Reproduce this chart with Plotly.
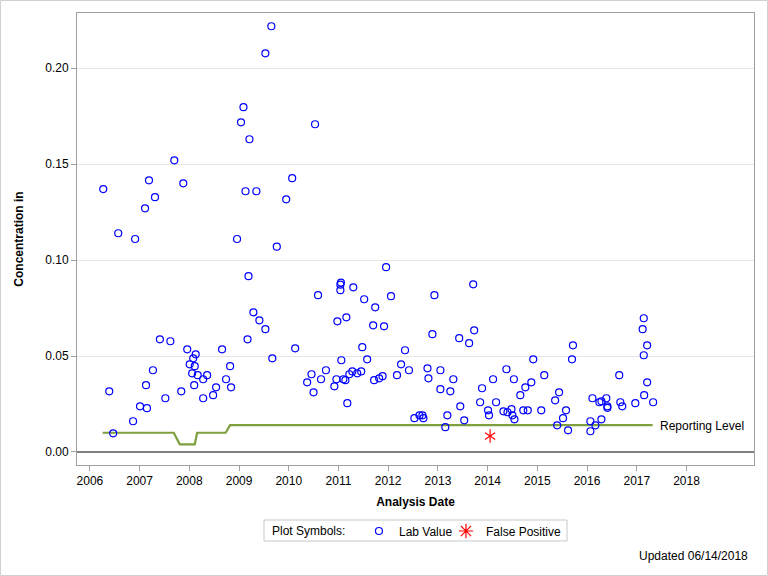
import plotly.graph_objects as go
from datetime import datetime, timedelta

# Sample dates as decimal years and concentrations
lab_years = [
    2006.27, 2006.57, 2006.91, 2007.11, 2007.19, 2007.31, 2007.70, 2007.88,
    2008.96, 2009.04, 2009.09, 2009.21, 2009.13, 2009.35, 2009.65, 2009.53,
    2010.53, 2010.07, 2009.95, 2009.76,
    2006.39, 2006.47, 2006.87, 2007.01, 2007.15, 2007.13, 2007.27, 2007.41,
    2007.52, 2007.62, 2007.84, 2007.96, 2008.01, 2008.08, 2008.13, 2008.11,
    2008.06, 2008.10, 2008.17, 2008.28, 2008.28, 2008.36, 2008.48, 2008.54,
    2008.66, 2008.74, 2008.82, 2008.84, 2009.17, 2009.19, 2009.29, 2009.41,
    2009.53, 2009.67, 2010.13, 2010.37, 2010.46, 2010.50, 2010.59,
    2010.65, 2010.75, 2010.92, 2010.96, 2010.98, 2011.05, 2011.04, 2011.04,
    2011.06, 2011.10, 2011.14, 2011.16, 2011.18, 2011.22, 2011.28, 2011.30,
    2011.38, 2011.46, 2011.48, 2011.52, 2011.58, 2011.70, 2011.72, 2011.74,
    2011.82, 2011.89, 2011.92, 2011.96, 2012.06, 2012.18, 2012.26, 2012.34,
    2012.42, 2012.53, 2012.63, 2012.69, 2012.71, 2012.79, 2012.81, 2012.89,
    2012.93, 2013.05, 2013.05, 2013.15, 2013.19, 2013.25, 2013.31, 2013.43,
    2013.45, 2013.53, 2013.63, 2013.71, 2013.73, 2013.85, 2013.89, 2014.01,
    2014.03, 2014.11, 2014.17, 2014.32, 2014.38, 2014.40, 2014.48, 2014.50,
    2014.54, 2014.53, 2014.66, 2014.72, 2014.76, 2014.81, 2014.88, 2014.92,
    2015.08, 2015.14, 2015.36, 2015.44, 2015.40,
    2015.52, 2015.58, 2015.62, 2015.70, 2015.72, 2016.07, 2016.07, 2016.11,
    2016.17, 2016.25, 2016.29, 2016.29, 2016.39, 2016.41, 2016.41, 2016.65,
    2016.67, 2016.71, 2016.97, 2017.12, 2017.14, 2017.14, 2017.21, 2017.21,
    2017.15, 2017.33,
]
lab_values = [
    0.137, 0.114, 0.111, 0.127, 0.1416, 0.1328, 0.152, 0.140,
    0.111, 0.1718, 0.1797, 0.163, 0.1359, 0.1359, 0.2219, 0.2078,
    0.1708, 0.1427, 0.1317, 0.107,
    0.0316, 0.0097, 0.016, 0.0238, 0.0228, 0.0348, 0.0426, 0.0587,
    0.028, 0.0577, 0.0316, 0.0535, 0.0457, 0.0488, 0.0509, 0.0447,
    0.041, 0.0348, 0.040, 0.0379, 0.028, 0.040, 0.0296, 0.0337,
    0.0535, 0.0379, 0.0447, 0.0337, 0.0587, 0.0916, 0.0728, 0.0686,
    0.064, 0.0488, 0.054, 0.0363, 0.0405, 0.0311, 0.0817,
    0.0379, 0.0426, 0.0342, 0.0379, 0.0681, 0.0883, 0.0872, 0.0843,
    0.0478, 0.0379, 0.0374, 0.0702, 0.0254, 0.0405, 0.042, 0.0858,
    0.041, 0.042, 0.0546, 0.0796, 0.0483, 0.066, 0.0374, 0.0754,
    0.0384, 0.0395, 0.0655, 0.0963, 0.0812, 0.040, 0.0457, 0.053,
    0.0426, 0.0176, 0.0191, 0.0191, 0.0176, 0.0436, 0.0384, 0.0614,
    0.0817, 0.0426, 0.0327, 0.0129, 0.0191, 0.0316, 0.0379, 0.0593,
    0.0238, 0.0165, 0.0567, 0.0874, 0.0634, 0.0259, 0.0332, 0.0217,
    0.0191, 0.0379, 0.0259, 0.0212, 0.0431, 0.0207, 0.0223, 0.0191,
    0.017, 0.0379, 0.0296, 0.0217, 0.0337, 0.0217, 0.0363, 0.0483,
    0.0217, 0.040, 0.0269, 0.0311, 0.0139,
    0.0176, 0.0217, 0.0113, 0.0483, 0.0556, 0.016, 0.0108, 0.028,
    0.0139, 0.0259, 0.0264, 0.017, 0.028, 0.0238, 0.023, 0.040,
    0.0259, 0.0238, 0.0254, 0.064, 0.0697, 0.0504, 0.0556, 0.0363,
    0.0296, 0.0259,
]

fp_years = [2014.05]
fp_values = [0.0083]

rl_years = [2006.255, 2007.69, 2007.81, 2008.11, 2008.16, 2008.73, 2008.82, 2017.32]
rl_values = [0.010, 0.010, 0.004, 0.004, 0.010, 0.010, 0.014, 0.014]

y_ticks = [0.00, 0.05, 0.10, 0.15, 0.20]
x_tick_years = [2006, 2007, 2008, 2009, 2010, 2011, 2012, 2013, 2014, 2015, 2016, 2017, 2018]


def to_date(y):
    yr = int(y)
    start = datetime(yr, 1, 1)
    ndays = (datetime(yr + 1, 1, 1) - start).days
    return (start + timedelta(days=(y - yr) * ndays)).strftime("%Y-%m-%d")


lab_dates = [to_date(v) for v in lab_years]
fp_dates = [to_date(v) for v in fp_years]
rl_dates = [to_date(v) for v in rl_years]

FONT = "Liberation Sans, Arial, sans-serif"

fig = go.Figure()
fig.add_trace(go.Scatter(
    x=rl_dates, y=rl_values, mode="lines",
    line=dict(color="#7f9f3f", width=2.2), showlegend=False, hoverinfo="skip",
))
fig.add_trace(go.Scatter(
    x=lab_dates, y=lab_values, mode="markers", name="Lab Value", legend="legend",
    marker=dict(symbol="circle-open", size=7, color="#0000ff", line=dict(width=1.2, color="#0000ff")),
))
fig.add_trace(go.Scatter(
    x=fp_dates, y=fp_values, mode="markers", name="False Positive",
    marker=dict(symbol="y-up-open", size=8.5, color="#ff0000", line=dict(width=1.2, color="#ff0000")),
    showlegend=False, legendgroup="fp", legend="legend2",
))
fig.add_trace(go.Scatter(
    x=fp_dates, y=fp_values, mode="markers", name="False Positive",
    marker=dict(symbol="y-down-open", size=8.5, color="#ff0000", line=dict(width=1.2, color="#ff0000")),
    showlegend=False, legendgroup="fp", legend="legend2",
))
# legend entry for false positive
fig.add_trace(go.Scatter(
    x=[None], y=[None], mode="markers", name="False Positive", legendgroup="fp", legend="legend2",
    marker=dict(symbol="asterisk-open", size=12, color="#ff0000", line=dict(width=1.2, color="#ff0000")),
))

fig.add_annotation(
    x=rl_dates[-1], y=rl_values[-1], xref="x", yref="y", text="Reporting Level",
    showarrow=False, xanchor="left", yanchor="middle", xshift=5, yshift=-1,
    font=dict(family=FONT, size=12, color="#000000"),
)
fig.add_annotation(
    x=0.994, y=-0.2013, xref="paper", yref="paper", text="Updated 06/14/2018",
    showarrow=False, xanchor="right", yanchor="middle",
    font=dict(family=FONT, size=12, color="#000000"),
)
fig.add_annotation(
    x=0.2851, y=-0.146, xref="paper", yref="paper", text="Plot Symbols:",
    showarrow=False, xanchor="left", yanchor="middle",
    font=dict(family=FONT, size=12, color="#000000"),
)
# legend box
fig.add_shape(
    type="rect", xref="paper", yref="paper",
    x0=0.2762, x1=0.7238, y0=-0.1681, y1=-0.1217,
    line=dict(color="#c8c8c8", width=1),
)
# outer border of the graphic
fig.add_shape(
    type="rect", xref="paper", yref="paper",
    x0=-0.1130, x1=1.0199, y0=-0.2445, y1=1.0277,
    line=dict(color="#d0d0d0", width=1), layer="below",
)

legend_common = dict(
    orientation="h", xanchor="left", y=-0.146, yanchor="middle",
    bgcolor="rgba(0,0,0,0)", borderwidth=0, font=dict(size=12),
    itemwidth=30, tracegroupgap=0,
)

fig.update_layout(
    width=768, height=576,
    margin=dict(l=77, r=14, t=13, b=111, autoexpand=False),
    paper_bgcolor="white", plot_bgcolor="white",
    font=dict(family=FONT, size=12, color="#000000"),
    showlegend=True,
    legend=dict(x=0.4165, **legend_common),
    legend2=dict(x=0.5450, **legend_common),
    xaxis=dict(
        type="date", automargin=False,
        range=[to_date(2005.74), to_date(2019.36)],
        tickvals=[f"{y}-01-01" for y in x_tick_years],
        ticktext=[str(y) for y in x_tick_years],
        ticks="outside", ticklen=5, tickcolor="#a0a0a0",
        showline=True, mirror=True, linecolor="#a0a0a0", linewidth=1,
        showgrid=False, zeroline=False,
        title=dict(text="<b>Analysis Date</b>", standoff=10, font=dict(size=12)),
        tickfont=dict(size=12),
    ),
    yaxis=dict(
        automargin=False,
        range=[-0.0068, 0.2288],
        tickvals=y_ticks, tickformat=".2f",
        ticks="outside", ticklen=5, tickcolor="#a0a0a0",
        showline=True, mirror=True, linecolor="#a0a0a0", linewidth=1,
        showgrid=True, gridcolor="#e6e6e6", gridwidth=1,
        zeroline=True, zerolinecolor="#808080", zerolinewidth=2,
        title=dict(text="<b>Concentration in</b>", standoff=19, font=dict(size=12)),
        tickfont=dict(size=12),
    ),
)

fig.write_html(
    "out.html",
    config={"displayModeBar": False},
    post_script="document.body.style.margin='0';",
)
